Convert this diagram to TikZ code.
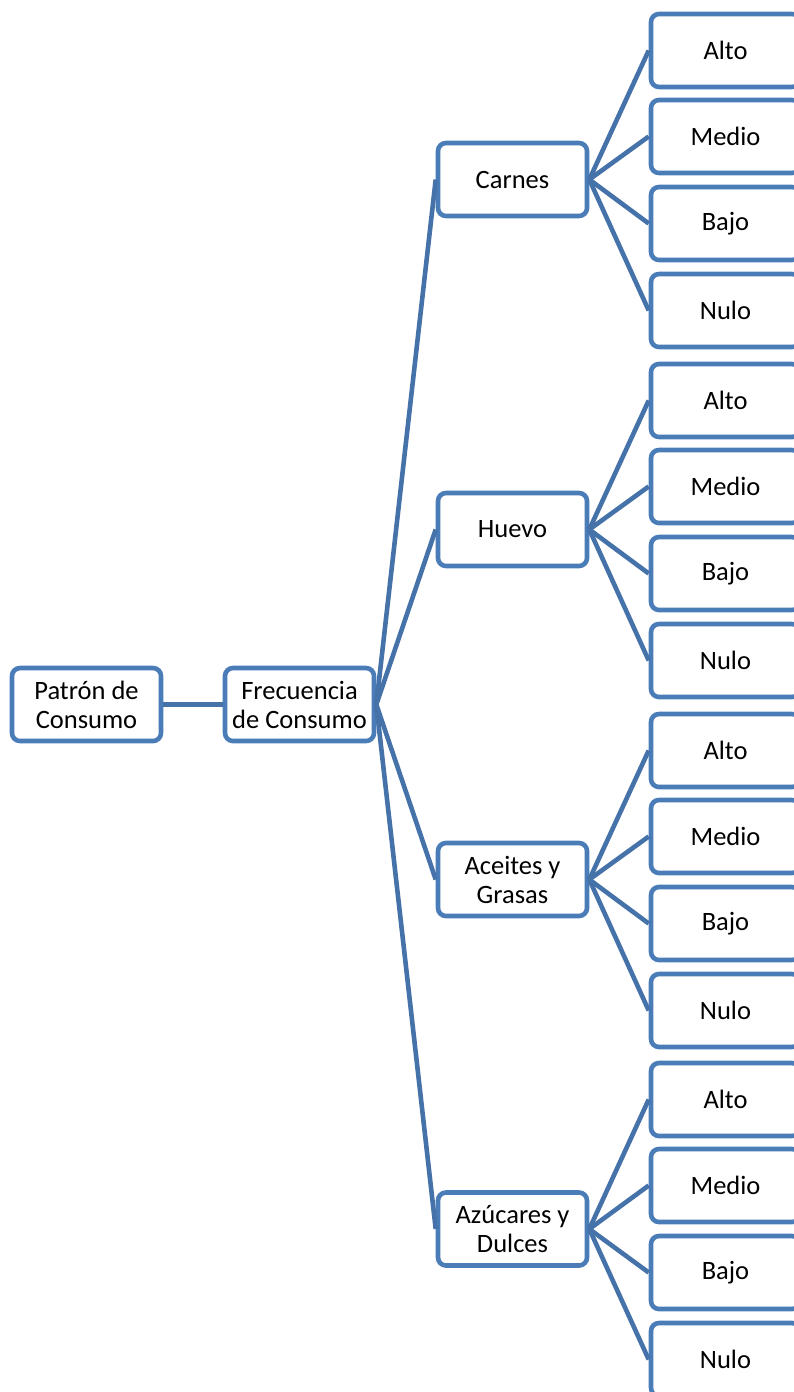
\documentclass[tikz,border=0pt]{standalone}
\usepackage{fontspec}
\setmainfont{Carlito}
\usepackage{tikz}
\definecolor{boxblue}{RGB}{74,124,184}
\definecolor{linkblue}{RGB}{70,114,170}

\begin{document}
\begin{tikzpicture}[x=1pt,y=-1pt]
        \useasboundingbox (0,0) rectangle (793,1392);
        \begin{scope}[
            every node/.style={shape=rectangle,rounded corners=8pt,draw=boxblue,line width=4.6pt,
                fill=white,minimum width=149pt,minimum height=73pt,inner sep=2pt,align=center,
                font=\fontsize{26.5}{29}\selectfont}
        ]
            \node (P) at (86.5, 704.5) {Patrón de\\Consumo};
            \node (F) at (299.5, 704.5) {Frecuencia\\de Consumo};

            \node (C) at (512.5, 179.5) {Carnes};
            \node (H) at (512.5, 529.5) {Huevo};
            \node (G) at (512.5, 879.5) {Aceites y\\Grasas};
            \node (D) at (512.5, 1229) {Azúcares y\\Dulces};

            \node (C1) at (725.5, 50.5) {Alto};
            \node (C2) at (725.5, 136.5) {Medio};
            \node (C3) at (725.5, 223.5) {Bajo};
            \node (C4) at (725.5, 310.5) {Nulo};

            \node (H1) at (725.5, 400.5) {Alto};
            \node (H2) at (725.5, 486.5) {Medio};
            \node (H3) at (725.5, 573.5) {Bajo};
            \node (H4) at (725.5, 660.5) {Nulo};

            \node (G1) at (725.5, 750.5) {Alto};
            \node (G2) at (725.5, 836.5) {Medio};
            \node (G3) at (725.5, 923.5) {Bajo};
            \node (G4) at (725.5, 1010.5) {Nulo};

            \node (D1) at (725.5, 1099.5) {Alto};
            \node (D2) at (725.5, 1185.5) {Medio};
            \node (D3) at (725.5, 1272.5) {Bajo};
            \node (D4) at (725.5, 1359.5) {Nulo};
        \end{scope}
        \begin{scope}[
            every edge/.style={draw=linkblue,line width=4.6pt}
        ]
            \path [-] (P.east) edge (F.west);

            \path [-] (F.east) edge (C.west);
            \path [-] (F.east) edge (H.west);
            \path [-] (F.east) edge (G.west);
            \path [-] (F.east) edge (D.west);

            \path [-] (C.east) edge (C1.west);
            \path [-] (C.east) edge (C2.west);
            \path [-] (C.east) edge (C3.west);
            \path [-] (C.east) edge (C4.west);

            \path [-] (H.east) edge (H1.west);
            \path [-] (H.east) edge (H2.west);
            \path [-] (H.east) edge (H3.west);
            \path [-] (H.east) edge (H4.west);

            \path [-] (G.east) edge (G1.west);
            \path [-] (G.east) edge (G2.west);
            \path [-] (G.east) edge (G3.west);
            \path [-] (G.east) edge (G4.west);

            \path [-] (D.east) edge (D1.west);
            \path [-] (D.east) edge (D2.west);
            \path [-] (D.east) edge (D3.west);
            \path [-] (D.east) edge (D4.west);
        \end{scope}
    \end{tikzpicture}
\end{document}
